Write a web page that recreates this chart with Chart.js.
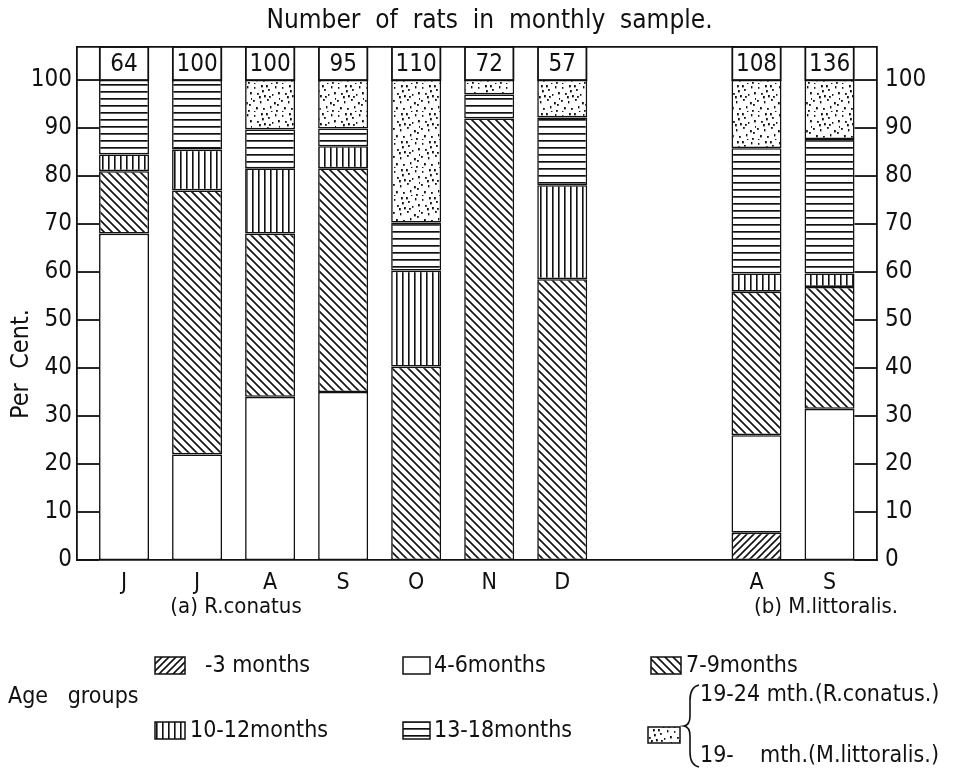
<!DOCTYPE html>
<html lang="en">
<head>
<meta charset="UTF-8">
<title>Number of rats in monthly sample</title>
<script src="https://cdn.jsdelivr.net/npm/chart.js"></script>
<style>
  html, body { margin: 0; padding: 0; background: #fff; }
</style>
</head>
<body>
<canvas id="ratChart" width="979" height="768"></canvas>
<script>
// --- data (per cent of each monthly sample) ---
const months = ['J', 'J', 'A', 'S', 'O', 'N', 'D', 'A', 'S'];
const sampleSizes = [64, 100, 100, 95, 110, 72, 57, 108, 136];
const upTo3 = [0, 0, 0, 0, 0, 0, 0, 5.7, 0];
const m4to6 = [68, 22, 34, 35, 0, 0, 0, 20.3, 31.5];
const m7to9 = [13, 55, 34, 46.6, 40.3, 92, 58.5, 29.9, 25.4];
const m10to12 = [3.5, 8.5, 13.6, 4.6, 20, 0, 19.6, 3.8, 2.8];
const m13to18 = [15.5, 14.5, 8.1, 3.7, 10, 5, 14.1, 26.1, 28];
const m19plus = [0, 0, 10.3, 10.1, 29.7, 3, 7.8, 14.2, 12.3];
const yTicks = [0, 10, 20, 30, 40, 50, 60, 70, 80, 90, 100];
const ageGroups = ['-3 months', '4-6months', '7-9months', '10-12months', '13-18months', '19- mth.'];

const FONT = "'DejaVu Sans Condensed', 'Liberation Sans Narrow', 'DejaVu Sans', sans-serif";
const INK = '#111';

// the M. littoralis bars sit after a gap of empty months
const speciesGap = 1.66;
const xPos = months.map((m, i) => i < 7 ? i : i + speciesGap);

// hatch patterns
function makePattern(w, h, draw) {
    const c = document.createElement('canvas');
    c.width = w; c.height = h;
    const g = c.getContext('2d');
    g.fillStyle = '#fff';
    g.fillRect(0, 0, w, h);
    g.strokeStyle = INK;
    g.fillStyle = INK;
    draw(g);
    return document.createElement('canvas').getContext('2d').createPattern(c, 'repeat');
}
const diagUp = makePattern(7, 7, g => {
    g.lineWidth = 1.6;
    g.beginPath();
    g.moveTo(-1, 8); g.lineTo(8, -1);
    g.moveTo(-1, 1); g.lineTo(1, -1);
    g.moveTo(6, 8); g.lineTo(8, 6);
    g.stroke();
});
const diagDown = makePattern(8, 8, g => {
    g.lineWidth = 1.6;
    g.beginPath();
    g.moveTo(-1, -1); g.lineTo(9, 9);
    g.moveTo(7, -1); g.lineTo(9, 1);
    g.moveTo(-1, 7); g.lineTo(1, 9);
    g.stroke();
});
const vertical = makePattern(6, 6, g => { g.fillRect(0, 0, 1.6, 6); });
const horizontal = makePattern(7, 7, g => { g.fillRect(0, 0, 7, 1.7); });
const dotted = makePattern(28, 28, g => {
    [[2,3],[9,1],[16,5],[23,2],[5,9],[12,11],[20,10],[26,8],[1,16],[8,17],
     [15,15],[22,18],[27,14],[4,23],[11,24],[18,22],[24,26],[14,1],[19,27],[7,12],
     [25,20],[2,27],[17,12],[10,6]]
        .forEach(([x, y], k) => g.fillRect(x, y, k % 3 ? 1.8 : 1.4, k % 2 ? 2.4 : 1.8));
});

const series = [upTo3, m4to6, m7to9, m10to12, m13to18, m19plus];
const fills = [diagUp, '#ffffff', diagDown, vertical, horizontal, dotted];

const datasets = series.map((vals, k) => ({
    label: ageGroups[k],
    data: vals.map((v, i) => ({ x: xPos[i], y: v })),
    backgroundColor: fills[k],
    borderColor: INK,
    borderWidth: 1.6,
    borderSkipped: false,
    inflateAmount: 0,
    barThickness: 50
}));

function line(ctx, x1, y1, x2, y2) {
    ctx.beginPath();
    ctx.moveTo(x1, y1);
    ctx.lineTo(x2, y2);
    ctx.stroke();
}

const framePlugin = {
    id: 'frame',
    afterDatasetsDraw(chart) {
        const { ctx, chartArea: a, scales: { y } } = chart;
        const bars = chart.getDatasetMeta(0).data;
        const top100 = y.getPixelForValue(100);
        ctx.save();
        ctx.strokeStyle = INK;
        ctx.lineWidth = 1.8;
        line(ctx, a.left, a.top, a.right, a.top);

        // boxes with the sample size above each bar
        ctx.font = '24px ' + FONT;
        ctx.textAlign = 'center';
        ctx.textBaseline = 'middle';
        ctx.fillStyle = INK;
        bars.forEach((b, i) => {
            const l = b.x - b.width / 2;
            ctx.strokeRect(l + 0.8, a.top, b.width - 1.6, top100 - a.top);
            ctx.fillText(sampleSizes[i], b.x, (a.top + top100) / 2 + 1);
        });

        // ruler strips at both sides
        const first = bars[0], last = bars[bars.length - 1];
        const leftEdge = first.x - first.width / 2;
        const rightEdge = last.x + last.width / 2;
        yTicks.forEach(v => {
            const py = y.getPixelForValue(v);
            line(ctx, a.left, py, leftEdge, py);
            line(ctx, rightEdge, py, a.right, py);
        });
        ctx.restore();
    },
    afterDraw(chart) {
        const { ctx } = chart;
        ctx.save();
        ctx.fillStyle = INK;
        ctx.strokeStyle = INK;
        ctx.textBaseline = 'middle';

        // y axis title
        ctx.save();
        ctx.translate(21, 364);
        ctx.rotate(-Math.PI / 2);
        ctx.textAlign = 'center';
        ctx.font = '25px ' + FONT;
        ctx.fillText('Per  Cent.', 0, 0);
        ctx.restore();

        // species labels
        ctx.font = '22px ' + FONT;
        ctx.textAlign = 'center';
        ctx.fillText('(a) R.conatus', 236, 607);
        ctx.fillText('(b) M.littoralis.', 826, 607);

        // legend
        ctx.textAlign = 'left';
        ctx.font = '23px ' + FONT;
        ctx.fillText('Age   groups', 8, 697);

        const swatch = (x, y, w, h, fill) => {
            ctx.fillStyle = fill;
            ctx.fillRect(x, y, w, h);
            ctx.lineWidth = 1.5;
            ctx.strokeRect(x, y, w, h);
            ctx.fillStyle = INK;
        };
        swatch(155, 657, 30, 17, diagUp);
        ctx.fillText(ageGroups[0], 205, 666);
        swatch(403, 657, 27, 17, '#ffffff');
        ctx.fillText(ageGroups[1], 434, 666);
        swatch(651, 657, 30, 17, diagDown);
        ctx.fillText(ageGroups[2], 686, 666);
        swatch(155, 722, 30, 17, vertical);
        ctx.fillText(ageGroups[3], 190, 731);
        swatch(403, 722, 27, 17, horizontal);
        ctx.fillText(ageGroups[4], 434, 731);
        swatch(648, 727, 32, 16, dotted);

        // brace
        ctx.lineWidth = 1.6;
        ctx.beginPath();
        ctx.moveTo(699, 685);
        ctx.quadraticCurveTo(690, 687, 690, 700);
        ctx.lineTo(690, 716);
        ctx.quadraticCurveTo(690, 725, 684, 726);
        ctx.quadraticCurveTo(690, 727, 690, 736);
        ctx.lineTo(690, 752);
        ctx.quadraticCurveTo(690, 765, 699, 767);
        ctx.stroke();
        ctx.fillText('19-24 mth.(R.conatus.)', 700, 695);
        ctx.fillText('19-    mth.(M.littoralis.)', 700, 756);
        ctx.restore();
    }
};

Chart.defaults.font.family = FONT;
Chart.defaults.color = INK;

new Chart(document.getElementById('ratChart'), {
    type: 'bar',
    data: { datasets: datasets },
    options: {
        responsive: false,
        animation: false,
        layout: { padding: 0 },
        plugins: {
            legend: { display: false },
            tooltip: { enabled: false },
            title: {
                display: true,
                text: 'Number  of  rats  in  monthly  sample.',
                font: { size: 26, weight: 'normal', lineHeight: 1.15 },
                color: INK,
                padding: { top: 6, bottom: 11 }
            }
        },
        scales: {
            x: {
                type: 'linear',
                stacked: true,
                offset: false,
                min: -0.644,
                max: 10.31,
                grid: { display: false, drawTicks: false },
                border: { display: true, color: INK, width: 1.8 },
                afterBuildTicks: s => { s.ticks = xPos.map(v => ({ value: v })); },
                afterFit: s => { s.height = 208; },
                ticks: {
                    autoSkip: false,
                    maxRotation: 0,
                    padding: 9,
                    font: { size: 23 },
                    callback: (v, i) => months[i]
                }
            },
            y: {
                stacked: true,
                min: 0,
                max: 106.9,
                grid: { display: false, drawTicks: false },
                border: { display: true, color: INK, width: 1.8 },
                afterBuildTicks: s => { s.ticks = yTicks.map(v => ({ value: v })); },
                afterFit: s => { s.width = 77; },
                ticks: { padding: 5, font: { size: 24 } }
            },
            y2: {
                position: 'right',
                min: 0,
                max: 106.9,
                grid: { display: false, drawTicks: false },
                border: { display: true, color: INK, width: 1.8 },
                afterBuildTicks: s => { s.ticks = yTicks.map(v => ({ value: v })); },
                afterFit: s => { s.width = 102; },
                ticks: { padding: 8, font: { size: 24 } }
            }
        }
    },
    plugins: [framePlugin]
});
</script>
</body>
</html>
